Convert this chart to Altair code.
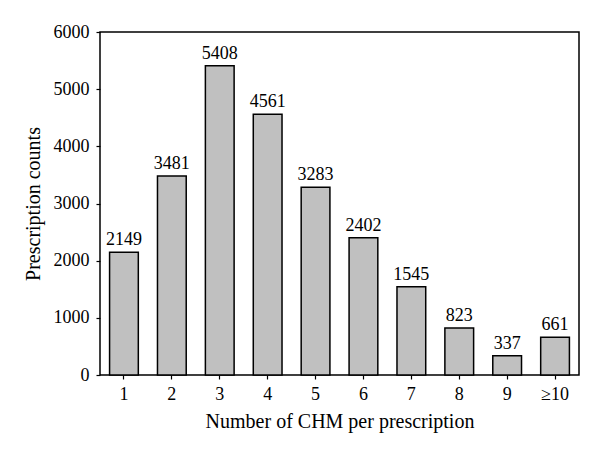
import altair as alt
import pandas as pd

categories = ["1", "2", "3", "4", "5", "6", "7", "8", "9", "≥10"]
counts = [2149, 3481, 5408, 4561, 3283, 2402, 1545, 823, 337, 661]

df = pd.DataFrame({"cat": categories, "count": counts})

FONT = "Liberation Serif"

x = alt.X("cat:N", sort=categories,
          scale=alt.Scale(paddingInner=0.4, paddingOuter=0.2),
          axis=alt.Axis(title="Number of CHM per prescription", labelAngle=0,
                        tickSize=4, labelPadding=6, titlePadding=8, domain=False))
y = alt.Y("count:Q", scale=alt.Scale(domain=[0, 6000], nice=False),
          axis=alt.Axis(title="Prescription counts", values=list(range(0, 6001, 1000)),
                        format="d", tickSize=4, labelPadding=7, titlePadding=10,
                        grid=False, domain=False))

bars = alt.Chart(df).mark_bar(fill="#c0c0c0", stroke="black", strokeWidth=1.5).encode(x=x, y=y)
text = alt.Chart(df).mark_text(baseline="alphabetic", dy=-7, font=FONT, fontSize=18, color="black").encode(
    x=alt.X("cat:N", sort=categories), y="count:Q", text="count:Q")

chart = (bars + text).properties(
    width=479, height=343,
    autosize=alt.AutoSizeParams(type="none"),
    padding={"left": 92, "top": 24, "right": 13, "bottom": 71},
).configure_view(stroke="black", strokeWidth=1.5).configure_axis(
    labelFont=FONT, titleFont=FONT, labelFontSize=18, titleFontSize=20,
    labelColor="black", titleColor="black", tickColor="black", titleFontWeight="normal",
    tickWidth=1.2,
)

chart.save("out.html", embed_options={"renderer": "svg", "actions": False})
